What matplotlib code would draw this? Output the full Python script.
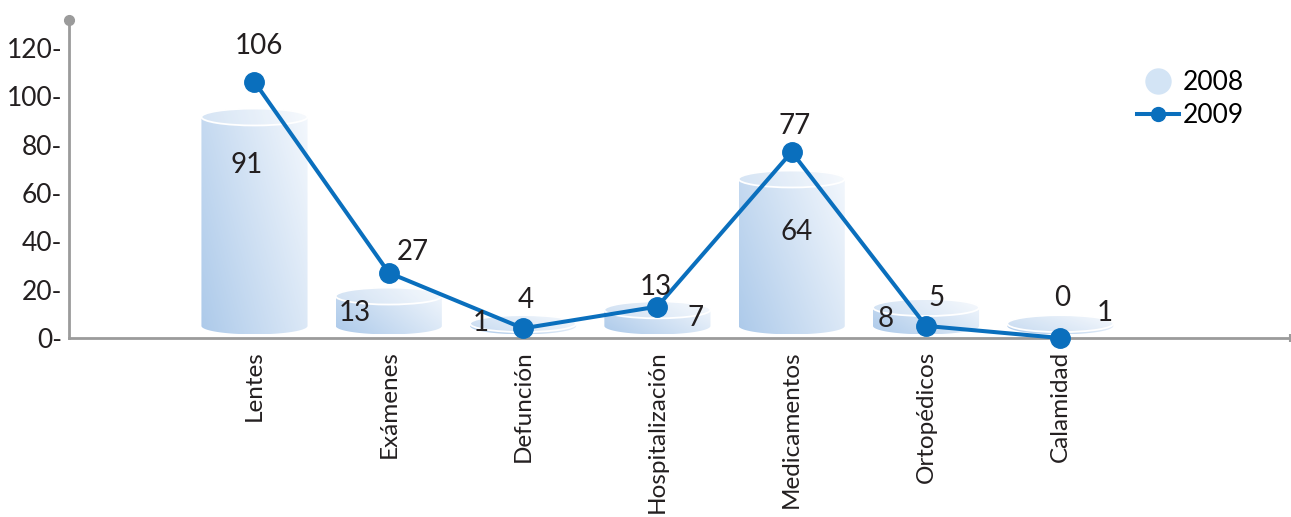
import numpy as np
import matplotlib.pyplot as plt
from matplotlib.patches import Ellipse, PathPatch
from matplotlib.path import Path
from matplotlib.colors import LinearSegmentedColormap
from matplotlib.lines import Line2D

plt.rcParams['font.family'] = ['Lato', 'DejaVu Sans']

categories = ['Lentes', 'Exámenes', 'Defunción', 'Hospitalización',
              'Medicamentos', 'Ortopédicos', 'Calamidad']
values_2008 = [91, 13, 1, 7, 64, 8, 1]
values_2009 = [106, 27, 4, 13, 77, 5, 0]
yticks = [0, 20, 40, 60, 80, 100, 120]

# label offsets in pixels from each mark
offsets_2008 = [(-8, -47), (-34, -6), (-42, 13), (38, 3), (5, -49), (-40, 0), (44, 23)]
offsets_2009 = [(4, 36), (24, 21), (3, 28), (-2, 20), (3, 26), (10, 28), (2, 40)]

LINE_BLUE = '#0a6fbd'
AXIS_GRAY = '#9b9b9b'
TEXT = '#231f20'

cyl_cmap = LinearSegmentedColormap.from_list('cyl', ['#adcaea', '#f4f8fd'])


def draw_cylinder(ax, x, value, half_w=0.395, cap=3.5, base=5.0):
    top = base + value * 0.95
    t = np.linspace(0, np.pi, 60)
    # top arc (right -> left over the top), then bottom arc (left -> right underneath)
    upper = np.column_stack([x + half_w * np.cos(t), top + cap * np.sin(t)])
    lower = np.column_stack([x - half_w * np.cos(t), base - cap * np.sin(t)])
    pts = np.vstack([upper, lower, upper[:1]])
    clip = PathPatch(Path(pts, closed=True), facecolor='none', edgecolor='none')
    ax.add_patch(clip)

    gx, gy = np.meshgrid(np.linspace(0, 1, 80), np.linspace(0, 1, 80))
    grad = 0.65 * gx + 0.35 * gy
    im = ax.imshow(grad, cmap=cyl_cmap, origin='lower', aspect='auto',
                   extent=[x - half_w, x + half_w, base - cap, top + cap],
                   interpolation='bilinear', zorder=1, vmin=0, vmax=1)
    im.set_clip_path(clip)

    ax.add_patch(Ellipse((x, top), 2 * half_w, 2 * cap, facecolor='white',
                         alpha=0.3, edgecolor='none', zorder=1.5))
    ax.add_patch(Ellipse((x, top), 2 * half_w, 2 * cap, facecolor='none',
                         edgecolor='white', lw=1.3, zorder=1.6))


fig = plt.figure(figsize=(12.91, 5.17), dpi=100)
ax = fig.add_axes([69 / 1291, 179 / 517, 1221 / 1291, 318 / 517])

x = np.arange(len(categories))
for xi, v in zip(x, values_2008):
    draw_cylinder(ax, xi, v)

ax.plot(x, values_2009, color=LINE_BLUE, lw=2.9, marker='o', markersize=14,
        zorder=3, clip_on=False)

for xi, v, (dx, dy) in zip(x, values_2008, offsets_2008):
    ax.annotate(str(v), (xi, v), xytext=(dx, dy), textcoords='offset pixels',
                ha='center', va='center', fontsize=20, color=TEXT, zorder=4)
for xi, v, (dx, dy) in zip(x, values_2009, offsets_2009):
    ax.annotate(str(v), (xi, v), xytext=(dx, dy), textcoords='offset pixels',
                ha='center', va='center', fontsize=20, color=TEXT, zorder=4)

ax.set_xlim(-1.381, 7.71)
ax.set_ylim(0, 131.6)

for side in ['top', 'right']:
    ax.spines[side].set_visible(False)
for side in ['left', 'bottom']:
    ax.spines[side].set_color(AXIS_GRAY)
    ax.spines[side].set_linewidth(2)

ax.plot([-1.381], [131.6], 'o', color=AXIS_GRAY, markersize=7, clip_on=False, zorder=5)
ax.plot([7.71], [0], '|', color=AXIS_GRAY, markersize=6, mew=1.5, clip_on=False, zorder=5)

ax.set_yticks(yticks)
ax.set_yticklabels([f'{v}-' for v in yticks], fontsize=19, color=TEXT)
ax.set_xticks(x)
ax.set_xticklabels(categories, rotation=90, ha='center', va='top', fontsize=17.5, color=TEXT)
ax.tick_params(axis='both', length=0)
ax.tick_params(axis='y', pad=5)
ax.tick_params(axis='x', pad=9)

handles = [
    Line2D([], [], marker='o', linestyle='none', markersize=19,
           markerfacecolor='#d3e4f5', markeredgecolor='none', label='2008'),
    Line2D([], [], color=LINE_BLUE, lw=2.9, marker='o', markersize=10, label='2009'),
]
fig.legend(handles=handles, loc='upper left', bbox_to_anchor=(1137 / 1291, 1 - 70 / 517),
           frameon=False, fontsize=19, handlelength=1.6, handletextpad=0.15,
           labelspacing=0.3, borderaxespad=0, borderpad=0)

fig.savefig('out.png', dpi=100)
